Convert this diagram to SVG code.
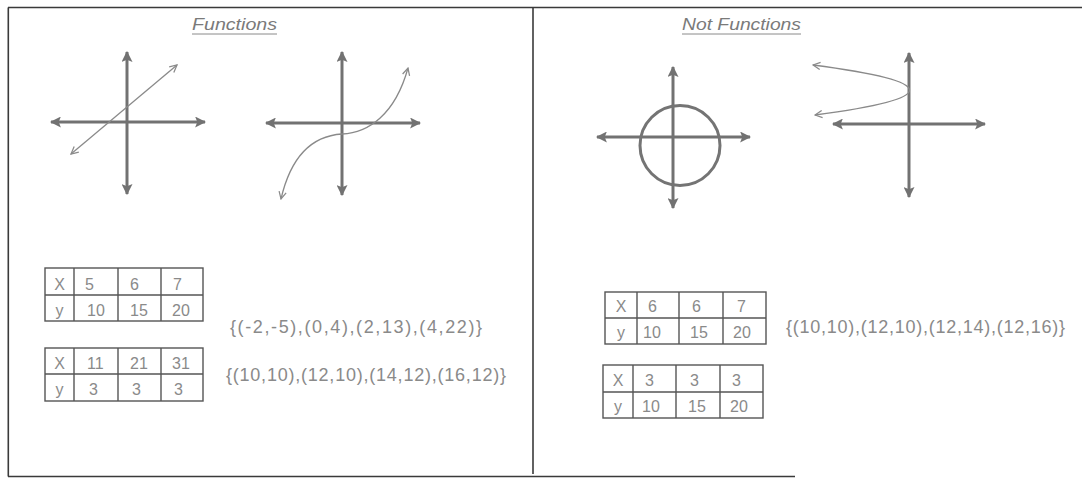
<svg xmlns="http://www.w3.org/2000/svg" width="1082" height="479" viewBox="0 0 1082 479">
<style>
.frame{stroke:#3a3a3a;stroke-width:1.6;fill:none}
.axis{stroke:#727272;stroke-width:3;fill:none;marker-start:url(#ah);marker-end:url(#ah)}
.fn{stroke:#8a8a8a;stroke-width:1.3;fill:none;marker-start:url(#oh);marker-end:url(#oh)}
.circ{stroke:#747474;stroke-width:3;fill:none}
.tbl{stroke:#555;stroke-width:1.4;fill:none}
.t{font-family:"Liberation Sans",Arial,sans-serif;font-size:16px;fill:#8a8a8a}
.c{text-anchor:middle}
.title{font-family:"Liberation Sans",Arial,sans-serif;font-size:17px;font-style:italic;fill:#7a7a7a}
.ul{stroke:#8a8a8a;stroke-width:1}
.set{font-family:"Liberation Sans",Arial,sans-serif;font-size:18px;fill:#8a8a8a}
</style>
<defs>
<marker id="ah" viewBox="0 0 10 10" refX="9" refY="5" markerUnits="userSpaceOnUse" markerWidth="11" markerHeight="11" orient="auto-start-reverse">
<path d="M0,0 L10,5 L0,10 L2,5 z" fill="#727272"/>
</marker>
<marker id="oh" viewBox="0 0 10 10" refX="9" refY="5" markerUnits="userSpaceOnUse" markerWidth="9" markerHeight="9" orient="auto-start-reverse">
<path d="M1,1 L9,5 L1,9" fill="none" stroke="#8a8a8a" stroke-width="1.4"/>
</marker>
</defs>
<rect width="1082" height="479" fill="#fff"/>

<g id="frame">
<line class="frame" x1="8" y1="7.5" x2="1082" y2="7.5"/>
<line class="frame" x1="8.3" y1="7.5" x2="8.3" y2="476.5"/>
<line class="frame" x1="8" y1="476.5" x2="795" y2="476.5"/>
<line class="frame" x1="533" y1="7.5" x2="533" y2="474"/>
</g>

<g id="title-functions">
<text class="title" x="192" y="30" textLength="85" lengthAdjust="spacingAndGlyphs">Functions</text>
<line class="ul" x1="192" y1="34" x2="277" y2="34"/>
</g>
<g id="title-not-functions">
<text class="title" x="682" y="30" textLength="119" lengthAdjust="spacingAndGlyphs">Not Functions</text>
<line class="ul" x1="682" y1="34" x2="801" y2="34"/>
</g>

<g id="graph-line">
<line class="axis" x1="127" y1="52" x2="127" y2="194"/>
<line class="axis" x1="51" y1="122" x2="205" y2="122"/>
<line class="fn" x1="71" y1="154" x2="177" y2="65"/>
</g>

<g id="graph-cubic">
<line class="axis" x1="342" y1="52" x2="342" y2="195"/>
<line class="axis" x1="266" y1="123" x2="420" y2="123"/>
<path class="fn" d="M281,199 C290,160 310,136 342,134 C368,133 395,115 408,68"/>
</g>

<g id="graph-circle">
<line class="axis" x1="673" y1="67" x2="673" y2="208"/>
<line class="axis" x1="597" y1="137" x2="750" y2="137"/>
<circle class="circ" cx="680" cy="145.5" r="40"/>
</g>

<g id="graph-parabola">
<line class="axis" x1="909" y1="53" x2="909" y2="197"/>
<line class="axis" x1="833" y1="124" x2="985" y2="124"/>
<path class="fn" d="M813,65 Q1005,90 815,115"/>
</g>

<g id="table-1">
<rect class="tbl" x="45" y="268" width="158" height="53"/>
<line class="tbl" x1="45" y1="295" x2="203" y2="295"/>
<line class="tbl" x1="74" y1="268" x2="74" y2="321"/>
<line class="tbl" x1="118" y1="268" x2="118" y2="321"/>
<line class="tbl" x1="161" y1="268" x2="161" y2="321"/>
<text class="t c" x="59.5" y="290">X</text>
<text class="t" x="85" y="290">5</text>
<text class="t" x="130" y="290">6</text>
<text class="t" x="173" y="290">7</text>
<text class="t c" x="59.5" y="316">y</text>
<text class="t" x="87" y="316">10</text>
<text class="t" x="130" y="316">15</text>
<text class="t" x="172" y="316">20</text>
</g>

<g id="table-2">
<rect class="tbl" x="45" y="348" width="158" height="53"/>
<line class="tbl" x1="45" y1="374" x2="203" y2="374"/>
<line class="tbl" x1="74" y1="348" x2="74" y2="401"/>
<line class="tbl" x1="118" y1="348" x2="118" y2="401"/>
<line class="tbl" x1="161" y1="348" x2="161" y2="401"/>
<text class="t c" x="59.5" y="369">X</text>
<text class="t" x="87" y="369">11</text>
<text class="t" x="130" y="369">21</text>
<text class="t" x="172" y="369">31</text>
<text class="t c" x="59.5" y="395">y</text>
<text class="t" x="89" y="395">3</text>
<text class="t" x="132" y="395">3</text>
<text class="t" x="174" y="395">3</text>
</g>

<g id="table-3">
<rect class="tbl" x="605" y="292" width="161" height="52"/>
<line class="tbl" x1="605" y1="318" x2="766" y2="318"/>
<line class="tbl" x1="637" y1="292" x2="637" y2="344"/>
<line class="tbl" x1="679" y1="292" x2="679" y2="344"/>
<line class="tbl" x1="723" y1="292" x2="723" y2="344"/>
<text class="t c" x="621" y="312">X</text>
<text class="t" x="648" y="312">6</text>
<text class="t" x="692" y="312">6</text>
<text class="t" x="737" y="312">7</text>
<text class="t c" x="621" y="338">y</text>
<text class="t" x="643" y="338">10</text>
<text class="t" x="690" y="338">15</text>
<text class="t" x="733" y="338">20</text>
</g>

<g id="table-4">
<rect class="tbl" x="603" y="365" width="160" height="53"/>
<line class="tbl" x1="603" y1="392" x2="763" y2="392"/>
<line class="tbl" x1="633" y1="365" x2="633" y2="418"/>
<line class="tbl" x1="676" y1="365" x2="676" y2="418"/>
<line class="tbl" x1="720" y1="365" x2="720" y2="418"/>
<text class="t c" x="618" y="386">X</text>
<text class="t" x="645" y="386">3</text>
<text class="t" x="690" y="386">3</text>
<text class="t" x="732" y="386">3</text>
<text class="t c" x="618" y="412">y</text>
<text class="t" x="642" y="412">10</text>
<text class="t" x="688" y="412">15</text>
<text class="t" x="730" y="412">20</text>
</g>

<g id="set-1">
<text class="set" x="230" y="333" textLength="252" lengthAdjust="spacing">{(-2,-5),(0,4),(2,13),(4,22)}</text>
</g>
<g id="set-2">
<text class="set" x="226" y="381" textLength="280" lengthAdjust="spacing">{(10,10),(12,10),(14,12),(16,12)}</text>
</g>
<g id="set-3">
<text class="set" x="786" y="333" textLength="279" lengthAdjust="spacing">{(10,10),(12,10),(12,14),(12,16)}</text>
</g>
</svg>
